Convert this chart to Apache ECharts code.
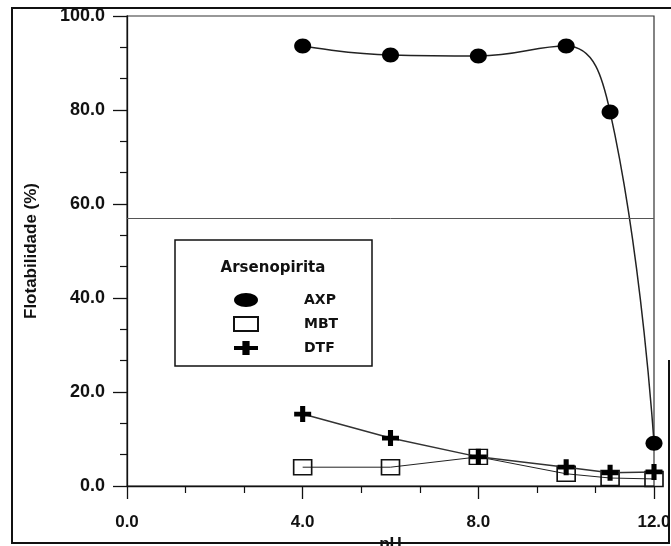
<!DOCTYPE html>
<html>
<head>
<meta charset="utf-8">
<script src="https://cdn.jsdelivr.net/npm/echarts@6/dist/echarts.min.js"></script>
<style>
html,body{margin:0;padding:0;background:#fff;}
#chart{width:671px;height:546px;}
</style>
</head>
<body>
<div id="chart"></div>
<script>
// ---- data ----
const phValues = [4, 6, 8, 10, 11, 12];
const axpValues = [93.6, 91.7, 91.5, 93.6, 79.6, 9.1];
const mbtValues = [4.0, 4.0, 6.2, 2.6, 1.7, 1.5];
const dtfValues = [15.3, 10.2, 6.2, 4.0, 2.8, 3.0];
const seriesNames = ['AXP', 'MBT', 'DTF'];
const legendTitle = 'Arsenopirita';
const xAxisName = 'pH';
const yAxisName = 'Flotabilidade (%)';
const xRange = [0, 12, 4];   // min, max, interval
const yRange = [0, 100, 20];
const horizontalRuleValue = 57.0;

const pairs = (xs, ys) => xs.map((x, i) => [x, ys[i]]);

const ellipsePath = 'path://M0,-1C0.5523,-1 1,-0.5523 1,0C1,0.5523 0.5523,1 0,1C-0.5523,1 -1,0.5523 -1,0C-1,-0.5523 -0.5523,-1 0,-1Z';
const plusPath = 'path://M-0.3,-1H0.3V-0.3H1V0.3H0.3V1H-0.3V0.3H-1V-0.3H-0.3Z';

const FONT = 'Liberation Sans, Arial, sans-serif';

const chart = echarts.init(document.getElementById('chart'), null, {renderer: 'canvas'});
const option = {
  backgroundColor: '#fff',
  animation: false,
  grid: {
    left: 127, right: 17, top: 16, bottom: 60,
    outerBoundsMode: 'none', containLabel: false,
    show: true, borderColor: '#333', borderWidth: 1.2, backgroundColor: 'transparent'
  },
  xAxis: {
    type: 'value', min: xRange[0], max: xRange[1], interval: xRange[2],
    name: xAxisName, nameLocation: 'middle', nameGap: 48,
    nameTextStyle: {fontFamily: FONT, fontSize: 17, fontWeight: 'bold', color: '#111'},
    axisLine: {show: true, onZero: false, lineStyle: {color: '#111', width: 1.3}},
    axisTick: {show: true, inside: false, length: 13, lineStyle: {color: '#111', width: 1.3}},
    minorTick: {show: true, splitNumber: 3, length: 7, lineStyle: {color: '#111', width: 1.2}},
    axisLabel: {margin: 28, fontFamily: FONT, fontSize: 17, fontWeight: 'bold', color: '#111',
      formatter: v => v.toFixed(1)},
    splitLine: {show: false}
  },
  yAxis: {
    type: 'value', min: yRange[0], max: yRange[1], interval: yRange[2],
    name: yAxisName, nameLocation: 'middle', nameGap: 87, nameRotate: 90,
    nameTextStyle: {fontFamily: FONT, fontSize: 17, fontWeight: 'bold', color: '#111'},
    axisLine: {show: true, onZero: false, lineStyle: {color: '#111', width: 1.3}},
    axisTick: {show: true, inside: false, length: 14, lineStyle: {color: '#111', width: 1.3}},
    minorTick: {show: true, splitNumber: 3, length: 7, lineStyle: {color: '#111', width: 1.2}},
    axisLabel: {margin: 22, fontFamily: FONT, fontSize: 18, fontWeight: 'bold', color: '#111',
      formatter: v => v.toFixed(1)},
    splitLine: {show: false}
  },
  legend: {
    orient: 'vertical', left: 228, top: 288, itemWidth: 24, itemHeight: 14, itemGap: 9,
    selectedMode: false, symbolKeepAspect: false,
    textStyle: {fontFamily: '"DejaVu Sans", sans-serif', fontSize: 14, fontWeight: 'bold', color: '#111', padding: [0, 0, 0, 41]},
    data: [
      {name: seriesNames[0], icon: ellipsePath},
      {name: seriesNames[1], icon: 'rect'},
      {name: seriesNames[2], icon: plusPath}
    ]
  },
  graphic: [
    {type: 'rect', z: -1, shape: {x: 175, y: 240, width: 197, height: 126},
      style: {fill: '#fff', stroke: '#111', lineWidth: 1.5}},
    {type: 'text', x: 273, y: 268, z: 10,
      style: {text: legendTitle, font: 'bold 15px "DejaVu Sans", sans-serif', fill: '#111',
        textAlign: 'center', textVerticalAlign: 'middle'}},
    {type: 'polyline', z: 20, silent: true,
      shape: {points: [[669, 360], [669, 543], [12, 543], [12, 8], [671, 8]]},
      style: {stroke: '#111', lineWidth: 2, fill: null}}
  ],
  series: [
    {
      name: seriesNames[1], type: 'line', z: 2,
      data: pairs(phValues, mbtValues),
      symbol: 'rect', symbolSize: [18, 15],
      itemStyle: {color: 'rgba(0,0,0,0)', borderColor: '#111', borderWidth: 1.5},
      lineStyle: {color: '#222', width: 1},
      markLine: {
        silent: true, symbol: 'none', label: {show: false},
        lineStyle: {color: '#555', width: 1, type: 'solid'},
        data: [{yAxis: horizontalRuleValue}]
      }
    },
    {
      name: seriesNames[2], type: 'line', z: 3,
      data: pairs(phValues, dtfValues),
      symbol: plusPath, symbolSize: [17, 16],
      itemStyle: {color: '#000'},
      lineStyle: {color: '#333', width: 1.5}
    },
    {
      name: seriesNames[0], type: 'line', z: 4,
      data: pairs(phValues, axpValues),
      smooth: 0.45,
      symbol: ellipsePath, symbolSize: [17, 15],
      itemStyle: {color: '#000'},
      lineStyle: {color: '#222', width: 1.5}
    }
  ]
};
chart.setOption(option);
</script>
</body>
</html>
